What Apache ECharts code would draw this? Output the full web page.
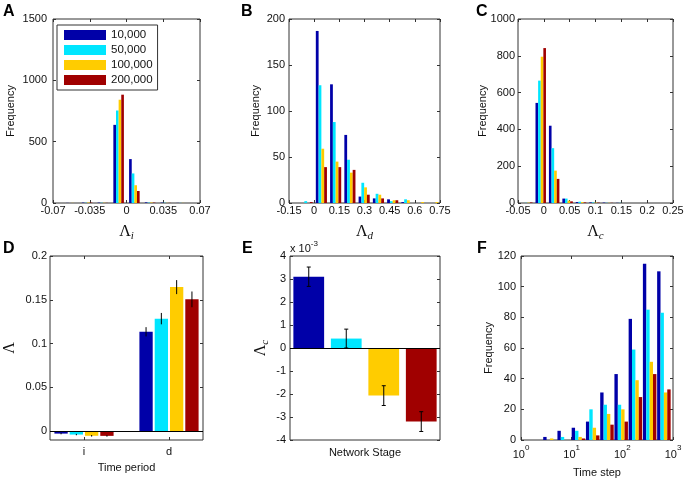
<!DOCTYPE html>
<html><head><meta charset="utf-8">
<script src="https://cdn.jsdelivr.net/npm/echarts@6/dist/echarts.min.js"></script>
<style>html,body{margin:0;padding:0;background:#fff}#c{width:687px;height:481px}</style>
</head><body><div id="c"></div>
<script>
// ---------------- data ----------------
const seriesNames = ['10,000', '50,000', '100,000', '200,000'];
const colors = ['#0000A8', '#00E6FF', '#FFCC00', '#A00000'];

// Panel A : histogram of Lambda_i
const aBins   = [-0.0525, -0.0375, -0.0225, -0.0075, 0.0075, 0.0225, 0.0375, 0.0525];
const aBlue   = [1, 3, 3, 637, 358, 5, 3, 1];
const aCyan   = [0, 2, 2, 754, 241, 3, 2, 1];
const aYellow = [1, 4, 2, 842, 145, 4, 1, 1];
const aRed    = [0, 3, 1, 883, 98, 3, 1, 0];
const aXTicks = [-0.07, 0.07, 0.035];   // min, max, step
const aYTicks = [0, 1500, 500];

// Panel B : histogram of Lambda_d
const bBins   = [-0.042, 0.043, 0.128, 0.213, 0.298, 0.383, 0.468, 0.553, 0.638, 0.723];
const bBlue   = [0, 187, 129, 74, 7, 5, 4, 1, 0, 0];
const bCyan   = [2, 128, 88, 47, 22, 10, 2, 4, 0, 0];
const bYellow = [0, 59, 45, 33, 17, 9, 3, 3, 1, 1];
const bRed    = [1, 39, 39, 36, 9, 5, 3, 0, 0, 0];
const bXTicks = [-0.15, 0.75, 0.15];
const bYTicks = [0, 200, 50];

// Panel C : histogram of Lambda_c
const cBins   = [-0.032, -0.006, 0.020, 0.046, 0.072, 0.098, 0.124, 0.150, 0.176, 0.202];
const cBlue   = [0, 544, 420, 24, 5, 3, 2, 1, 0, 0];
const cCyan   = [1, 665, 298, 24, 7, 3, 1, 1, 0, 0];
const cYellow = [2, 795, 176, 13, 5, 2, 1, 0, 0, 0];
const cRed    = [3, 842, 131, 9, 3, 2, 1, 0, 0, 0];
const cXTicks = [-0.05, 0.25, 0.05];
const cYTicks = [0, 1000, 200];

// Panel D : mean Lambda per time period
const dCats   = ['i', 'd'];
const dPos    = [1, 2];
const dBlue   = [-0.0027, 0.1135];
const dCyan   = [-0.0038, 0.1285];
const dYellow = [-0.0052, 0.1645];
const dRed    = [-0.0053, 0.1505];
const dBlueErr   = [0.0008, 0.0053];
const dCyanErr   = [0.0008, 0.0065];
const dYellowErr = [0.0009, 0.0080];
const dRedErr    = [0.0009, 0.0090];
const dYRange = [-0.01, 0.2];
const dYTickVals = [0, 0.05, 0.1, 0.15, 0.2];

// Panel E : Lambda_c per network stage
const eCats = ['1', '2', '3', '4'];
const eVals = [0.0031, 0.00041, -0.00207, -0.0032];
const eErr  = [0.00042, 0.00041, 0.00043, 0.00043];
const eYTicks = [-0.004, 0.004, 0.001];

// Panel F : time step histogram (log bins)
const fBins   = [3.73, 7.12, 13.6, 26.0, 49.7, 94.9, 181, 346, 661];
const fBlue   = [2, 6, 8, 12, 31, 43, 79, 115, 110];
const fCyan   = [0, 2, 6, 20, 23, 23, 59, 85, 83];
const fYellow = [1, 0, 2, 8, 17, 20, 39, 51, 31];
const fRed    = [0, 0, 1, 3, 10, 12, 28, 43, 33];
const fYTicks = [0, 120, 20];

// ---------------- layout & style ----------------
const TXT = '#111';
const FONT = 'Liberation Sans, Arial, sans-serif';
const SERIF = 'Liberation Serif, Times New Roman, serif';
const FRAME = '#333';

const gridBoxes = [
  {left: 53,  top: 19,  width: 147, height: 184},
  {left: 289, top: 19,  width: 151, height: 184},
  {left: 518, top: 19,  width: 155, height: 184},
  {left: 50,  top: 256, width: 153, height: 184},
  {left: 290, top: 256, width: 150, height: 184},
  {left: 521, top: 256, width: 152, height: 184}
];
const grids = gridBoxes.map(g => Object.assign({
  show: true, borderColor: FRAME, borderWidth: 1, backgroundColor: 'transparent',
  containLabel: false, outerBoundsMode: 'none'
}, g));

function fmtNum(v) { return String(+v.toFixed(4)); }

const xAxes = [], yAxes = [];
function mkAxis(gi, pos, core, o) {
  o = o || {};
  const ax = Object.assign({
    gridIndex: gi, position: pos, axisLine: {show: false, onZero: false}, splitLine: {show: false},
    minorTick: {show: false}, nameMoveOverlap: false
  }, core);
  ax.axisTick = Object.assign({show: true, inside: true, length: 3, lineStyle: {color: FRAME, width: 1}}, o.axisTick || {});
  ax.axisLabel = Object.assign({show: true, color: TXT, fontSize: 11, fontFamily: FONT, margin: 4, formatter: fmtNum}, o.axisLabel || {});
  if (o.name) {
    ax.name = o.name; ax.nameLocation = 'middle'; ax.nameGap = o.nameGap;
    ax.nameTextStyle = Object.assign({color: TXT, fontSize: 11, fontFamily: FONT}, o.nameTextStyle || {});
  }
  return ax;
}
function addPair(gi, xCore, xOpt, yCore, yOpt) {
  xAxes.push(mkAxis(gi, 'bottom', xCore, xOpt));
  xAxes.push(mkAxis(gi, 'top', xCore, {axisTick: xOpt.axisTick, axisLabel: {show: false}}));
  yAxes.push(mkAxis(gi, 'left', yCore, yOpt));
  yAxes.push(mkAxis(gi, 'right', yCore, {axisTick: yOpt.axisTick, axisLabel: {show: false}}));
}
function lin(t) { return {type: 'value', min: t[0], max: t[1], interval: t[2]}; }
const lamRich = {
  L: {fontFamily: SERIF, fontSize: 16, color: TXT, lineHeight: 20, verticalAlign: 'middle'},
  s: {fontFamily: SERIF, fontStyle: 'italic', fontSize: 11, color: TXT, lineHeight: 20, verticalAlign: 'bottom'}
};

// A
addPair(0, lin(aXTicks), {axisLabel: {margin: 2, showMinLabel: true, showMaxLabel: true},
  name: '{L|Λ}{s|i}', nameGap: 19, nameTextStyle: {rich: lamRich}},
  lin(aYTicks), {axisLabel: {margin: 6}, name: 'Frequency', nameGap: 37});
// B
addPair(1, lin(bXTicks), {axisLabel: {margin: 2, showMinLabel: true, showMaxLabel: true},
  name: '{L|Λ}{s|d}', nameGap: 19, nameTextStyle: {rich: lamRich}},
  lin(bYTicks), {axisLabel: {margin: 4}, name: 'Frequency', nameGap: 28});
// C
addPair(2, lin(cXTicks), {axisLabel: {margin: 2, showMinLabel: true, showMaxLabel: true},
  name: '{L|Λ}{s|c}', nameGap: 19, nameTextStyle: {rich: lamRich}},
  lin(cYTicks), {axisLabel: {margin: 3}, name: 'Frequency', nameGap: 30});
// D
addPair(3, {type: 'value', min: 0.6, max: 2.4},
  {axisLabel: {customValues: dPos, formatter: v => dCats[Math.round(v) - 1] || '', margin: 6},
   axisTick: {customValues: dPos}, name: 'Time period', nameGap: 22},
  {type: 'value', min: dYRange[0], max: dYRange[1]},
  {axisLabel: {margin: 3, customValues: dYTickVals}, axisTick: {customValues: dYTickVals},
   name: '{L|Λ}', nameGap: 30, nameTextStyle: {rich: lamRich}});
// E
addPair(4, {type: 'category', data: eCats},
  {axisLabel: {show: false}, axisTick: {show: false}, name: 'Network Stage', nameGap: 7},
  lin(eYTicks), {axisLabel: {margin: 4, formatter: v => String(Math.round(v * 1000))},
   name: '{L|Λ}{s|c}', nameGap: 19, nameTextStyle: {rich: lamRich}});
// F
addPair(5, {type: 'log', min: 1, max: 1000, logBase: 10},
  {axisLabel: {margin: 4, formatter: v => '{b|10}{s|' + Math.round(Math.log10(v)) + '}',
    rich: {b: {fontSize: 11, fontFamily: FONT, color: TXT, lineHeight: 16, verticalAlign: 'bottom'},
           s: {fontSize: 8, fontFamily: FONT, color: TXT, lineHeight: 16, verticalAlign: 'top'}}},
   name: 'Time step', nameGap: 27},
  lin(fYTicks), {axisLabel: {margin: 5}, name: 'Frequency', nameGap: 27});

// ---------------- series ----------------
const series = [];
function histSeries(gi, bins, sets, catGap) {
  sets.forEach((vals, k) => {
    series.push({
      type: 'bar', name: seriesNames[k], xAxisIndex: 2 * gi, yAxisIndex: 2 * gi,
      data: bins.map((b, i) => [b, vals[i]]),
      itemStyle: {color: colors[k]}, barGap: '0%', barCategoryGap: catGap, silent: true
    });
  });
}
histSeries(0, aBins, [aBlue, aCyan, aYellow, aRed], '33%');
histSeries(1, bBins, [bBlue, bCyan, bYellow, bRed], '22%');
histSeries(2, cBins, [cBlue, cCyan, cYellow, cRed], '22%');
histSeries(5, fBins, [fBlue, fCyan, fYellow, fRed], '20%');

// D grouped bars with error bars
const D_BAR = 13.3, D_GAP = 0.15;
[dBlue, dCyan, dYellow, dRed].forEach((vals, k) => {
  const s = {
    type: 'bar', name: seriesNames[k], xAxisIndex: 6, yAxisIndex: 6,
    data: dPos.map((p, i) => [p, vals[i]]),
    itemStyle: {color: colors[k]}, barWidth: D_BAR, barGap: (D_GAP * 100) + '%', silent: true
  };
  if (k === 0) s.markLine = {silent: true, symbol: 'none', label: {show: false},
    lineStyle: {color: '#000', type: 'solid', width: 1}, data: [{yAxis: 0}], animation: false};
  series.push(s);
});
const dErrData = [];
[[dBlue, dBlueErr], [dCyan, dCyanErr], [dYellow, dYellowErr], [dRed, dRedErr]].forEach((pair, k) => {
  dPos.forEach((p, i) => dErrData.push([p, pair[0][i] - pair[1][i], pair[0][i] + pair[1][i], k]));
});
series.push({
  type: 'custom', xAxisIndex: 6, yAxisIndex: 6, silent: true, z: 10,
  encode: {x: 0, y: [1, 2]},
  data: dErrData,
  renderItem: (params, api) => {
    const p1 = api.coord([api.value(0), api.value(1)]);
    const p2 = api.coord([api.value(0), api.value(2)]);
    const off = (api.value(3) - 1.5) * D_BAR * (1 + D_GAP);
    return {type: 'line', shape: {x1: p1[0] + off, y1: p1[1], x2: p1[0] + off, y2: p2[1]},
      style: {stroke: '#000', lineWidth: 1}};
  }
});

// E bars with capped error bars
series.push({
  type: 'bar', xAxisIndex: 8, yAxisIndex: 8, barCategoryGap: '18%', silent: true,
  data: eVals.map((v, i) => ({value: v, itemStyle: {color: colors[i]}})),
  markLine: {silent: true, symbol: 'none', label: {show: false},
    lineStyle: {color: '#000', type: 'solid', width: 1}, data: [{yAxis: 0}], animation: false}
});
series.push({
  type: 'custom', xAxisIndex: 8, yAxisIndex: 8, silent: true, z: 10,
  encode: {x: 0, y: [1, 2]},
  data: eVals.map((v, i) => [i, v - eErr[i], v + eErr[i]]),
  renderItem: (params, api) => {
    const p1 = api.coord([api.value(0), api.value(1)]);
    const p2 = api.coord([api.value(0), api.value(2)]);
    const c = 2;
    return {type: 'group', children: [
      {type: 'line', shape: {x1: p1[0], y1: p1[1], x2: p2[0], y2: p2[1]}, style: {stroke: '#000', lineWidth: 1}},
      {type: 'line', shape: {x1: p1[0] - c, y1: p1[1], x2: p1[0] + c, y2: p1[1]}, style: {stroke: '#000', lineWidth: 1}},
      {type: 'line', shape: {x1: p2[0] - c, y1: p2[1], x2: p2[0] + c, y2: p2[1]}, style: {stroke: '#000', lineWidth: 1}}
    ]};
  }
});

// ---------------- panel letters etc ----------------
function letter(t, x, y) {
  return {type: 'text', left: x, top: y, silent: true,
    style: {text: t, font: 'bold 16px Liberation Sans, Arial, sans-serif', fill: '#000'}};
}
const graphic = [
  letter('A', 3, 4), letter('B', 241, 4), letter('C', 476, 4),
  letter('D', 3, 241), letter('E', 242, 241), letter('F', 477, 241),
  {type: 'text', left: 290, top: 240, silent: true,
   style: {text: '{a|x 10}{s|-3}', rich: {
     a: {fontSize: 11, fontFamily: FONT, fill: TXT, lineHeight: 14, verticalAlign: 'bottom'},
     s: {fontSize: 8, fontFamily: FONT, fill: TXT, lineHeight: 14, verticalAlign: 'top'}}}}
];

const chart = echarts.init(document.getElementById('c'), null, {renderer: 'canvas'});
chart.setOption({
  animation: false,
  backgroundColor: '#fff',
  grid: grids,
  xAxis: xAxes,
  yAxis: yAxes,
  legend: {
    data: seriesNames, orient: 'vertical', left: 57, top: 25,
    itemWidth: 42, itemHeight: 10, itemGap: 1, icon: 'rect',
    padding: [3, 5, 3, 7], borderColor: FRAME, borderWidth: 1, backgroundColor: '#fff',
    textStyle: {fontSize: 11.5, fontFamily: FONT, color: TXT, lineHeight: 14},
    selectedMode: false, itemStyle: {borderWidth: 0}
  },
  graphic: graphic,
  series: series
});
</script>
</body></html>
